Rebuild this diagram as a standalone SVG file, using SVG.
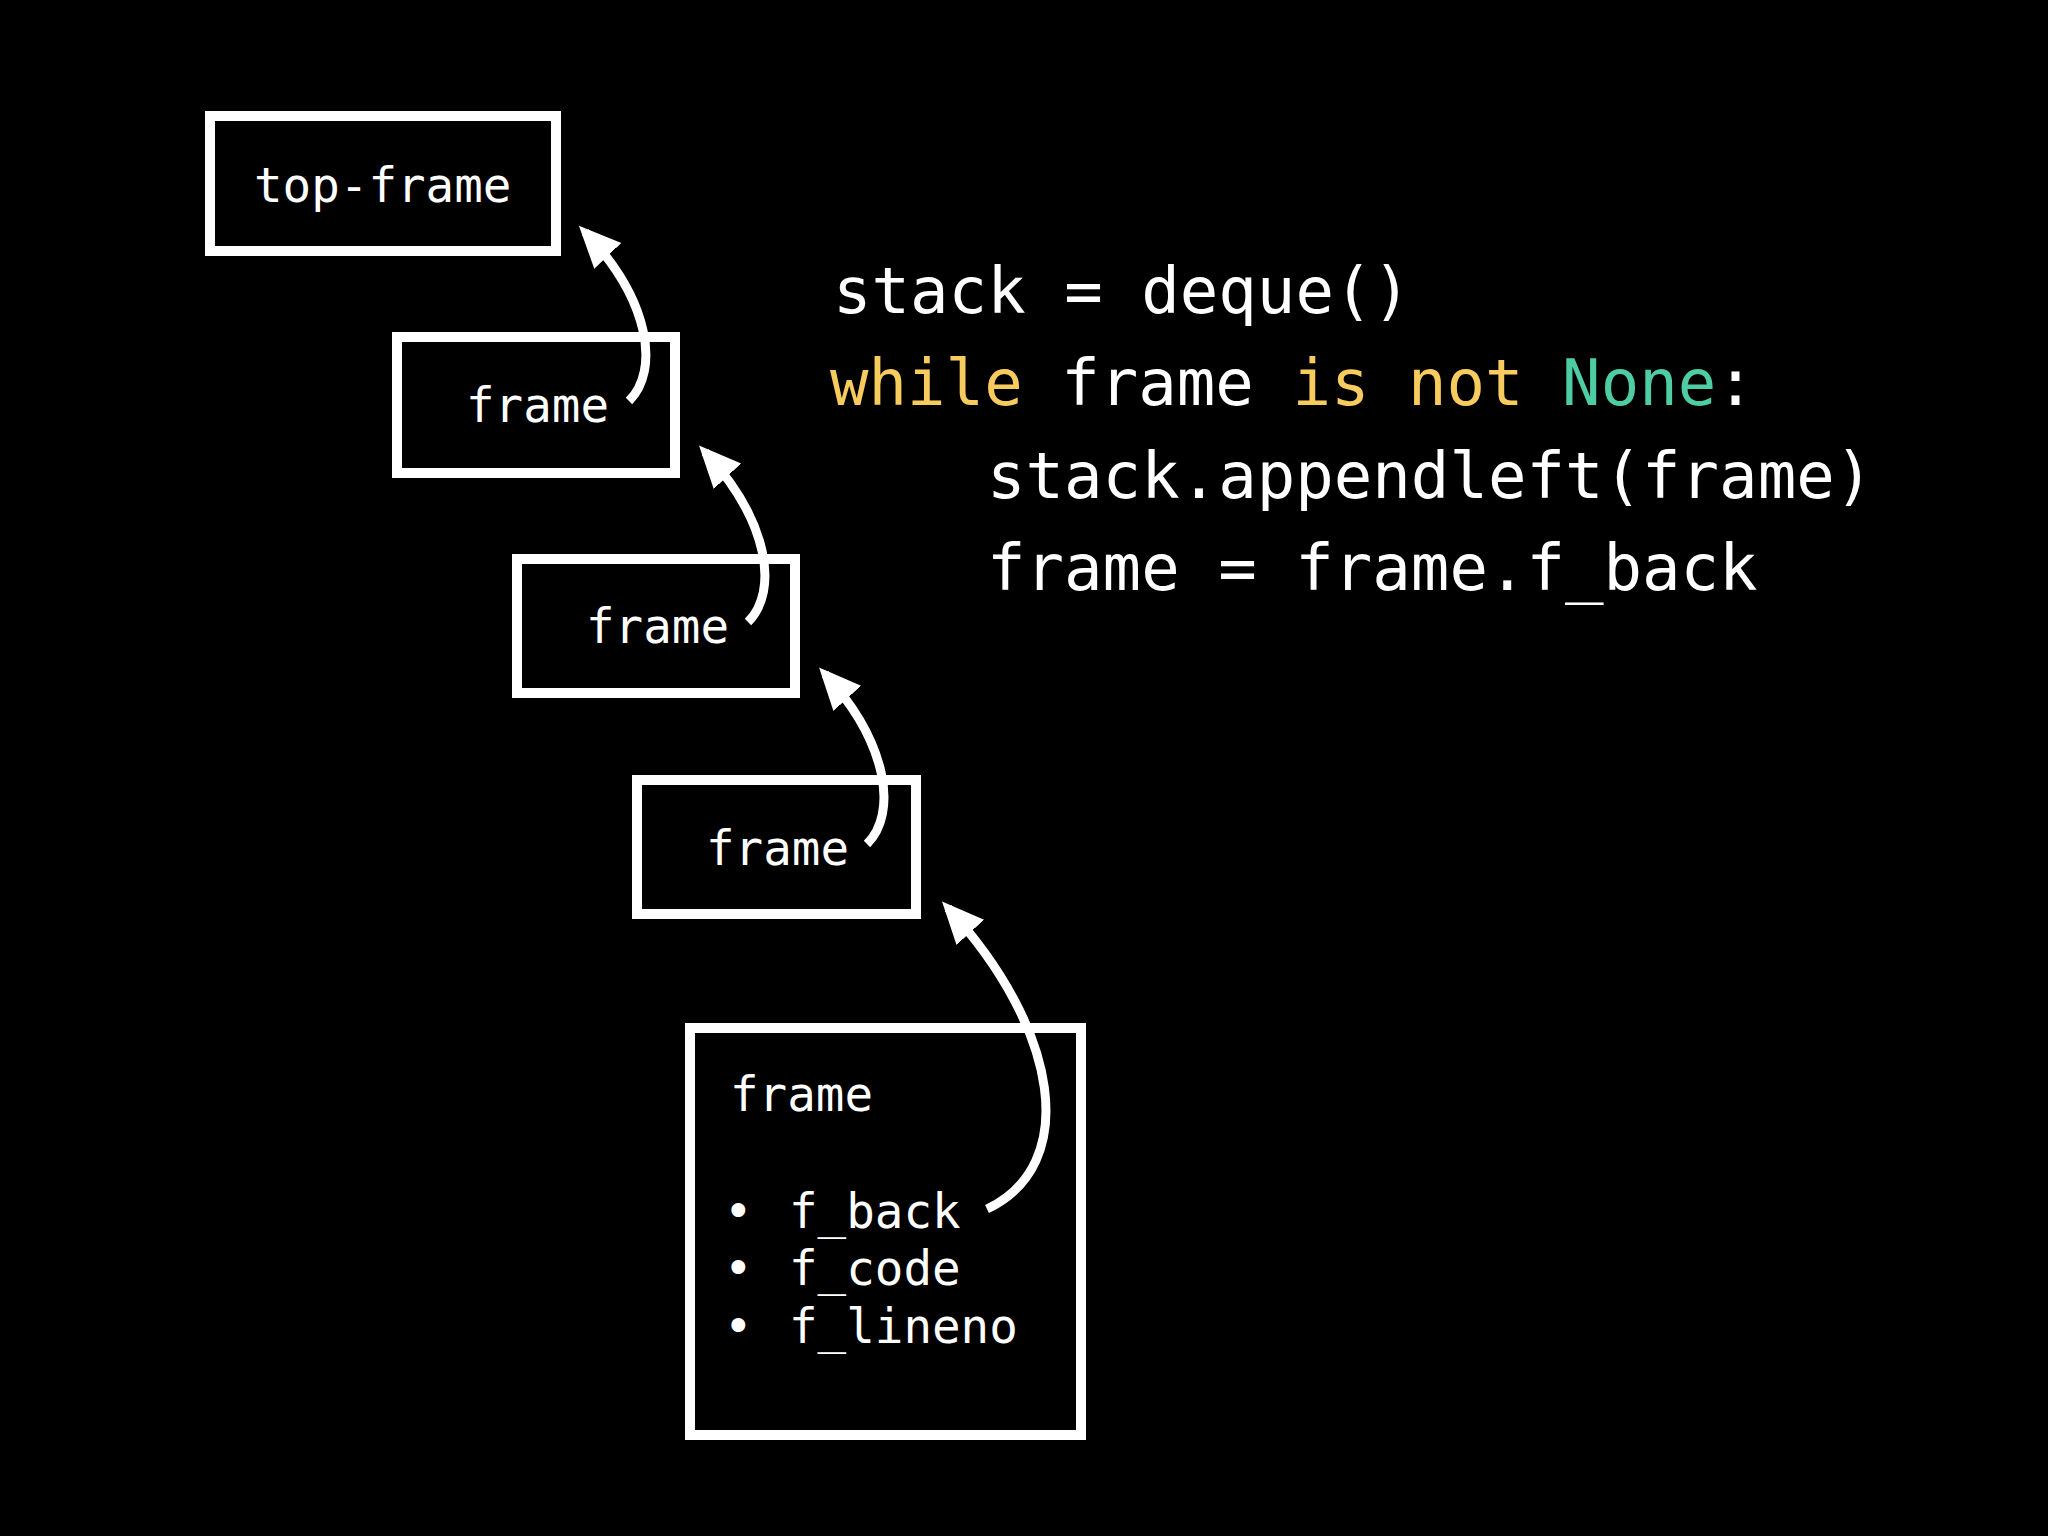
<svg xmlns="http://www.w3.org/2000/svg" width="2048" height="1536" viewBox="0 0 2048 1536">
<defs>
<style>
.box{fill:none;stroke:#fff;stroke-width:10}
.lbl{fill:#fff;font-family:"DejaVu Sans Mono",monospace;font-size:47.5px}
.code{fill:#fff;font-family:"DejaVu Sans Mono",monospace;font-size:64px}
.kw{fill:#f7cb5e}.cn{fill:#4ecda4}
.arr{fill:none;stroke:#fff;stroke-width:9;marker-end:url(#ah)}
</style>
<marker id="ah" markerUnits="userSpaceOnUse" markerWidth="44" markerHeight="44" refX="30" refY="17" orient="auto" viewBox="0 0 40 34">
<path d="M0,0 L38,17 L0,34 Z" fill="#fff"/>
</marker>
</defs>
<rect width="2048" height="1536" fill="#000"/>
<g id="top-frame"><rect class="box" x="210" y="116" width="346" height="135"/><text class="lbl" x="254" y="202">top-frame</text></g>
<g id="frame1"><rect class="box" x="397" y="337" width="278" height="136"/><text class="lbl" x="466" y="422">frame</text></g>
<g id="frame2"><rect class="box" x="517" y="559" width="278" height="134"/><text class="lbl" x="586" y="643">frame</text></g>
<g id="frame3"><rect class="box" x="637" y="780" width="279" height="134"/><text class="lbl" x="706" y="865">frame</text></g>
<g id="frame-detail"><rect class="box" x="690" y="1028" width="391" height="407"/>
<text class="lbl" x="730" y="1111">frame</text>
<text class="lbl" x="724" y="1228">•</text><text class="lbl" x="789" y="1228">f_back</text>
<text class="lbl" x="724" y="1285">•</text><text class="lbl" x="789" y="1285">f_code</text>
<text class="lbl" x="724" y="1343">•</text><text class="lbl" x="789" y="1343">f_lineno</text>
</g>
<g id="code">
<text class="code" x="833" y="313">stack = deque()</text>
<text class="code" x="830" y="405"><tspan class="kw">while</tspan> frame <tspan class="kw">is not</tspan> <tspan class="cn">None</tspan>:</text>
<text class="code" x="987" y="498">stack.appendleft(frame)</text>
<text class="code" x="987" y="590">frame = frame.f_back</text>
</g>
<g id="connectors">
<path class="arr" d="M629,401 C660,370 650,300 585,232"/>
<path class="arr" d="M748,622 C779,591 769,521 705,452"/>
<path class="arr" d="M867,844 C898,813 888,743 825,674"/>
<path class="arr" d="M987,1209 C1080,1165 1060,1030 948,908"/>
</g>
</svg>
